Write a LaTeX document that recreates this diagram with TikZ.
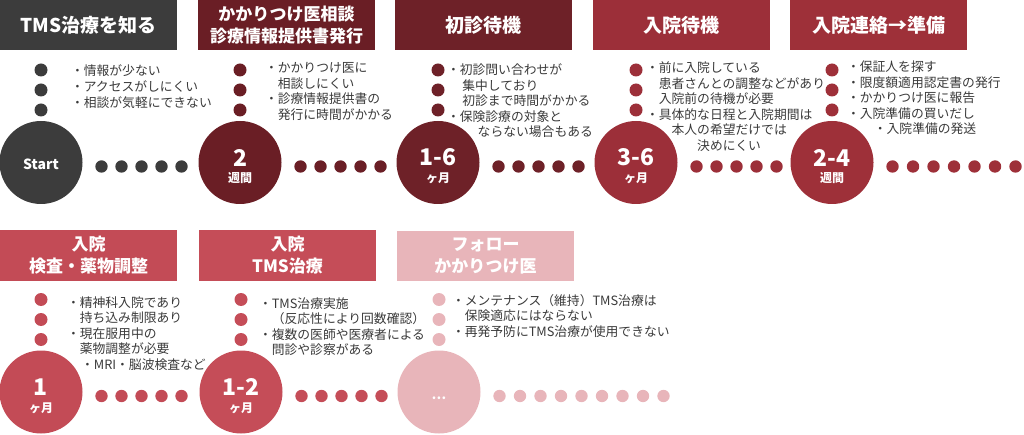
\documentclass[tikz,border=0pt]{standalone}
\usepackage{fontspec}
\setmainfont{Noto Sans CJK JP}
\usetikzlibrary{positioning}

\definecolor{knowgray}{HTML}{3C3C3C}
\definecolor{consultred}{HTML}{6A1E25}
\definecolor{waitred}{HTML}{6E2128}
\definecolor{admitred}{HTML}{9C2F39}
\definecolor{prepred}{HTML}{9E3039}
\definecolor{examred}{HTML}{C34B56}
\definecolor{treatred}{HTML}{C54D58}
\definecolor{followpink}{HTML}{E8B5BA}
\definecolor{notegray}{HTML}{3A3A3A}

\begin{document}
\begin{tikzpicture}
[x=1pt, y=-1pt,
% STYLES
every node/.style={inner sep=0pt, outer sep=0pt},
% The stage style is used to draw the name of each step
stage/.style={rectangle, anchor=north west, minimum width=177pt, minimum height=50pt, text=white, align=center, font=\bfseries\fontsize{17}{22}\selectfont},
% The period style is used to draw the duration of each step
period/.style={circle, minimum size=83pt},
num/.style={text=white, font=\bfseries\fontsize{23}{23}\selectfont},
unit/.style={text=white, font=\bfseries\fontsize{12}{12}\selectfont},
% The note style is used to describe the problems of each step (placed at the baseline of its last line)
note/.style={anchor=base west, align=left, text=notegray, font=\fontsize{12.8}{15.5}\selectfont},
vdot/.style={circle, minimum size=13pt},
hdot/.style={circle, minimum size=12.4pt}]

\useasboundingbox (0,0) rectangle (1024,435);

% Draw stages
\node [stage, fill=knowgray, font=\bfseries\fontsize{19}{22}\selectfont] (know) at (0,0) {TMS治療を知る};
\node [stage, fill=consultred] (consult) at (198,0) {かかりつけ医相談\\診療情報提供書発行};
\node [stage, fill=waitred, font=\bfseries\fontsize{19}{22}\selectfont] (firstwait) at (395,0) {初診待機};
\node [stage, fill=admitred, font=\bfseries\fontsize{19}{22}\selectfont] (admitwait) at (593,0) {入院待機};
\node [stage, fill=prepred, font=\bfseries\fontsize{19}{22}\selectfont] (prep) at (790,0) {入院連絡→準備};
\node [stage, fill=examred, minimum height=51pt] (exam) at (0,230) {入院\\検査・薬物調整};
\node [stage, fill=treatred, minimum height=51pt] (treat) at (199,230) {入院\\TMS治療};
\node [stage, fill=followpink] (follow) at (397,231) {フォロー\\かかりつけ医};

% Draw periods
\node [period, fill=knowgray] (p1) at (41,162.5) {};
\node [period, fill=consultred] (p2) at (240,162.5) {};
\node [period, fill=waitred] (p3) at (438,162.5) {};
\node [period, fill=admitred] (p4) at (636,162.5) {};
\node [period, fill=prepred] (p5) at (832,162.5) {};
\node [period, fill=examred] (q1) at (41,392) {};
\node [period, fill=treatred] (q2) at (241,392) {};
\node [period, fill=followpink] (q3) at (439,392) {};

\node [text=white, font=\bfseries\fontsize{14}{14}\selectfont] (p1-num) at ([yshift=-1.5pt]p1.center) {Start};
\node [num] (p2-num) at ([yshift=5pt]p2.center) {2};
\node [unit] (p2-unit) at ([yshift=-16pt]p2.center) {週間};
\node [num] (p3-num) at ([yshift=5pt]p3.center) {1-6};
\node [unit] (p3-unit) at ([yshift=-16pt]p3.center) {ヶ月};
\node [num] (p4-num) at ([yshift=5pt]p4.center) {3-6};
\node [unit] (p4-unit) at ([yshift=-16pt]p4.center) {ヶ月};
\node [num] (p5-num) at ([yshift=5pt]p5.center) {2-4};
\node [unit] (p5-unit) at ([yshift=-16pt]p5.center) {週間};
\node [num] (q1-num) at ([yshift=5pt]q1.center) {1};
\node [unit] (q1-unit) at ([yshift=-16pt]q1.center) {ヶ月};
\node [num] (q2-num) at ([yshift=5pt]q2.center) {1-2};
\node [unit] (q2-unit) at ([yshift=-16pt]q2.center) {ヶ月};
\node [unit, font=\bfseries\fontsize{13}{13}\selectfont] (q3-num) at ([yshift=-6pt]q3.center) {…};

% Draw the dots of each step
\foreach \p/\c/\n/\d in {p1/knowgray/4/20, p2/consultred/4/20, p3/waitred/4/20, p4/admitred/4/20, p5/prepred/6/20.5, q1/examred/4/20, q2/treatred/4/20, q3/followpink/8/20.5}
{
  \foreach \k in {1,2,3}
    \node [vdot, fill=\c] (\p-v\k) at ([yshift={112.5pt-20pt*\k}]\p.center) {};
  \foreach \k in {0,...,\n}
    \node [hdot, fill=\c] (\p-h\k) at ([xshift={60.5pt+\d pt*\k}, yshift=-4pt]\p.center) {};
}

% KNOW
\node [note, font=\fontsize{12.8}{16}\selectfont] (know-note) at (71,108) {・情報が少ない\\・アクセスがしにくい\\・相談が気軽にできない};
% CONSULT
\node [note] (consult-note) at (265,119.5) {・かかりつけ医に\\\hspace*{1em}相談しにくい\\・診療情報提供書の\\\hspace*{1em}発行に時間がかかる};
% FIRST VISIT
\node [note] (firstwait-note) at (447,137) {・初診問い合わせが\\\hspace*{1.2em}集中しており\\\hspace*{1.2em}初診まで時間がかかる\\・保険診療の対象と\\\hspace*{2.4em}ならない場合もある};
% ADMISSION WAIT
\node [note] (admitwait-note) at (646,150.5) {・前に入院している\\\hspace*{1em}患者さんとの調整などがあり\\\hspace*{1em}入院前の待機が必要\\・具体的な日程と入院期間は\\\hspace*{2em}本人の希望だけでは\\\hspace*{4em}決めにくい};
% PREPARATION
\node [note] (prep-note) at (847,134) {・保証人を探す\\・限度額適用認定書の発行\\・かかりつけ医に報告\\・入院準備の買いだし\\\hspace*{2.1em}・入院準備の発送};
% EXAM
\node [note] (exam-note) at (67,369) {・精神科入院であり\\\hspace*{1em}持ち込み制限あり\\・現在服用中の\\\hspace*{1em}薬物調整が必要\\\hspace*{1.1em}・MRI・脳波検査など};
% TREATMENT
\node [note] (treat-note) at (259,354.5) {・TMS治療実施\\\hspace*{1em}（反応性により回数確認）\\・複数の医師や医療者による\\\hspace*{1em}問診や診察がある};
% FOLLOW
\node [note] (follow-note) at (452,336) {・メンテナンス（維持）TMS治療は\\\hspace*{1em}保険適応にはならない\\・再発予防にTMS治療が使用できない};

\end{tikzpicture}
\end{document}
